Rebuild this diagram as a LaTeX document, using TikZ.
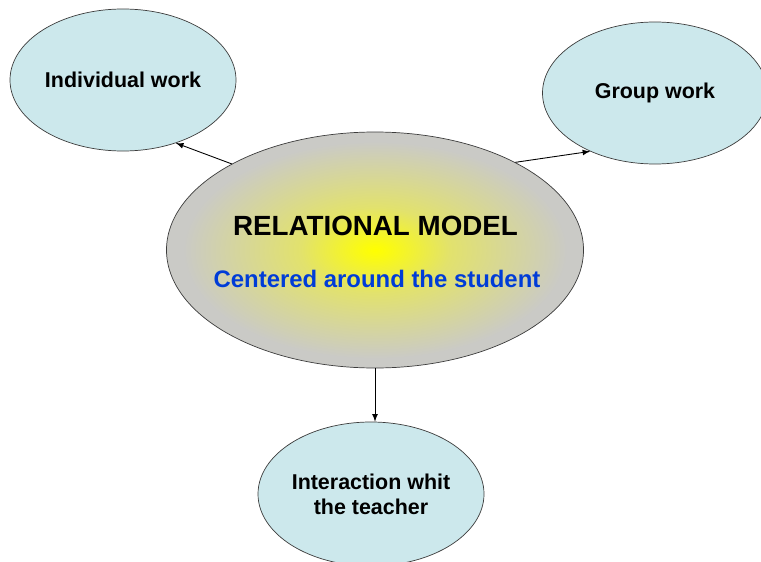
\documentclass[tikz,border=0pt]{standalone}
\usepackage{fontspec}
\setmainfont{Liberation Sans}
\usetikzlibrary{shapes.geometric}
\definecolor{bubble}{RGB}{204,232,236}
\definecolor{rim}{RGB}{60,60,60}
\definecolor{core}{RGB}{202,202,198}
\definecolor{subblue}{RGB}{0,60,215}
\pgfdeclareradialshading{glow}{\pgfpoint{0bp}{0bp}}{color(0bp)=(yellow); color(1.5bp)=(yellow!92!core); color(9bp)=(yellow!45!core); color(23bp)=(core); color(50bp)=(core)}

\begin{document}
\begin{tikzpicture}[main/.style={draw=rim, ellipse, fill=bubble, inner sep=0pt, align=center, font=\bfseries\fontsize{12.2}{14.2}\selectfont}, hub/.style={draw=rim, ellipse, shading=glow, inner sep=0pt}, n/.style={-latex, line width=0.5pt}]
                \useasboundingbox (0,0) rectangle (15.22,11.22);
                % nodes
                \node[hub, minimum width=8.34cm, minimum height=4.72cm] (rel) at (7.5,6.22) {};
                \node[anchor=base, font=\bfseries\fontsize{15.8}{18}\selectfont] (title) at (7.51,6.52) {RELATIONAL MODEL};
                \node[anchor=base, text=subblue, font=\bfseries\fontsize{13.6}{16}\selectfont] (sub) at (7.54,5.48) {Centered around the student};
                \node[main, minimum width=4.52cm, minimum height=2.84cm] (indiv) at (2.46,9.62) {Individual work};
                \node[main, minimum width=4.5cm, minimum height=2.84cm] (group) at (13.1,9.36) {Group work};
                \node[main, minimum width=4.52cm, minimum height=2.88cm] (inter) at (7.42,1.34) {Interaction whit\\the teacher};
                % edges
                \draw [n] (rel.149) -- (indiv.310);
                \draw [n] (rel.32) -- (group.222);
                \draw [n] (rel.270) -- (rel.270 |- inter.north);
            \end{tikzpicture}
\end{document}
